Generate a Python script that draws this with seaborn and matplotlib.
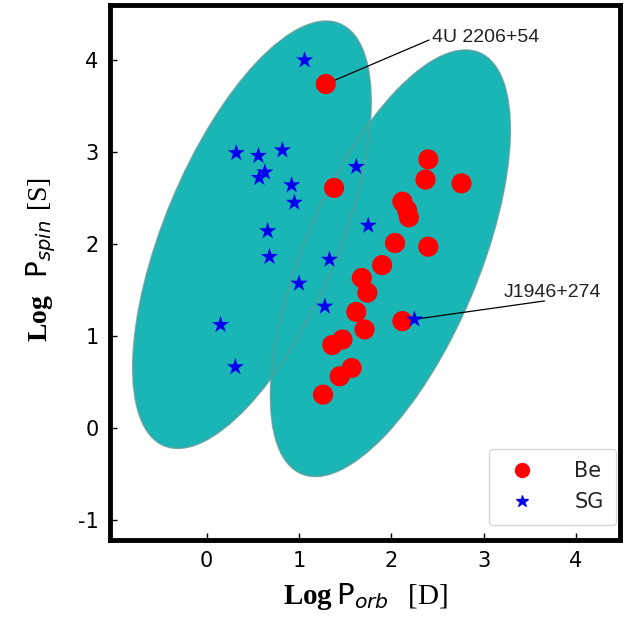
import numpy as np
import pandas as pd
import matplotlib
matplotlib.use("Agg")
import matplotlib.pyplot as plt
import seaborn as sns
from matplotlib.patches import Ellipse
from matplotlib.lines import Line2D

# Be systems: log P_orb [d], log P_spin [s]
be_porb = [1.29, 1.38, 2.40, 2.37, 2.76, 2.12, 2.17, 2.19, 2.04, 2.40, 1.90,
           1.68, 1.74, 1.62, 1.71, 2.12, 1.47, 1.36, 1.57, 1.44, 1.26]
be_pspin = [3.74, 2.61, 2.92, 2.70, 2.66, 2.46, 2.37, 2.29, 2.01, 1.97, 1.77,
            1.63, 1.47, 1.26, 1.07, 1.16, 0.96, 0.90, 0.65, 0.56, 0.36]

# supergiant systems
sg_porb = [1.06, 0.32, 0.56, 0.82, 0.63, 0.57, 0.92, 0.95, 1.62, 0.66, 0.68,
           1.33, 1.75, 1.00, 1.28, 0.15, 0.31, 2.25]
sg_pspin = [4.00, 2.99, 2.96, 3.02, 2.78, 2.72, 2.64, 2.45, 2.84, 2.14, 1.86,
            1.83, 2.20, 1.57, 1.32, 1.12, 0.66, 1.18]

# regions (center x, center y, width, height, angle)
regions = [(0.49, 2.10, 4.97, 1.89, 67.5),
           (1.99, 1.79, 4.97, 1.89, 67.2)]

# labelled sources: name, point, text position, line end, font size
labels = [("4U 2206+54", (1.29, 3.74), (2.44, 4.20), (2.41, 4.22), 14),
          ("J1946+274", (2.25, 1.18), (3.22, 1.42), (3.66, 1.38), 14)]

df = pd.DataFrame({
    "porb": be_porb + sg_porb,
    "pspin": be_pspin + sg_pspin,
    "type": ["Be"] * len(be_porb) + ["SG"] * len(sg_porb),
})

sns.set_style("ticks")
plt.rcParams["axes.unicode_minus"] = False
plt.rcParams["mathtext.fontset"] = "custom"
plt.rcParams["mathtext.rm"] = "Liberation Serif"
plt.rcParams["mathtext.bf"] = "Liberation Serif:bold"
plt.rcParams["mathtext.it"] = "DejaVu Sans:italic"
plt.rcParams["mathtext.sf"] = "DejaVu Sans"

fig = plt.figure(figsize=(6.31, 6.27), dpi=100)
ax = fig.add_axes([0.174, 0.139, 0.809, 0.853])

for cx, cy, w, h, ang in regions:
    ax.add_patch(Ellipse((cx, cy), w, h, angle=ang, facecolor="#1ab5b5",
                         edgecolor="none", zorder=1))
for cx, cy, w, h, ang in regions:
    ax.add_patch(Ellipse((cx, cy), w, h, angle=ang, facecolor="none",
                         edgecolor="#5c9c9c", lw=1.2, alpha=0.8, zorder=1.5))

sns.scatterplot(data=df, x="porb", y="pspin", hue="type", style="type",
                palette={"Be": "#ff0000", "SG": "#0000ee"},
                markers={"Be": "o", "SG": "*"},
                size="type", sizes={"Be": 210, "SG": 170},
                edgecolor="none", linewidth=0, ax=ax, zorder=3, legend=False)

handles = [Line2D([], [], ls="none", marker="o", color="#ff0000", ms=10, label="Be"),
           Line2D([], [], ls="none", marker="*", color="#0000ee", ms=9, label="SG")]
ax.legend(handles=handles, loc="lower right", fontsize=15, handletextpad=1.5,
          borderpad=0.6, labelspacing=0.55, borderaxespad=0.2, frameon=True,
          fancybox=True, edgecolor="#cccccc", bbox_to_anchor=(1.0, 0.02))

for name, pt, txt, end, fs in labels:
    ax.annotate("", xy=pt, xytext=end,
                arrowprops=dict(arrowstyle="-", color="black", lw=0.9,
                                shrinkA=0, shrinkB=0), zorder=2.5)
    ax.text(txt[0], txt[1], name, fontsize=fs, color="#222222",
            family="Liberation Sans", va="baseline", ha="left")

ax.set_xlim(-1.05, 4.48)
ax.set_ylim(-1.22, 4.6)
ax.set_xticks([0, 1, 2, 3, 4])
ax.set_yticks([-1, 0, 1, 2, 3, 4])
ax.tick_params(direction="in", length=5, width=1, labelsize=15, pad=8,
               colors="black")
for s in ax.spines.values():
    s.set_linewidth(3.5)
    s.set_color("black")

ax.set_xlabel(r"$\mathbf{Log}\,\mathsf{P}_{\mathit{orb}}\ \ [\mathrm{D}]$",
              fontsize=21, labelpad=7, color="black")
ax.set_ylabel(r"$\mathbf{Log}\ \ \mathsf{P}_{\mathit{spin}}\ [\mathrm{S}]$",
              fontsize=20, labelpad=14, color="black")
ax.yaxis.label.set_y(0.525)

fig.savefig("out.png", dpi=100)
